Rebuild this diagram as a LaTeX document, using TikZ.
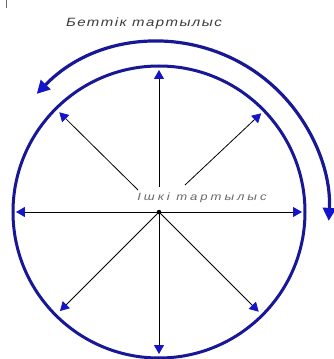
\documentclass[tikz,border=0pt]{standalone}
\usepackage{fontspec}
\setmainfont{Liberation Sans}
\usetikzlibrary{arrows.meta}
\definecolor{dblue}{RGB}{24,24,150}
\definecolor{hblue}{RGB}{20,20,200}
\definecolor{txtgray}{RGB}{60,60,60}
\definecolor{txtlight}{RGB}{105,105,105}
\newfontfamily\titlefont[LetterSpace=12,FakeStretch=1.25]{Liberation Sans}
\newfontfamily\innerfont[LetterSpace=28,FakeStretch=1.25]{Liberation Sans}
\tikzset{
  ring/.style={draw=dblue, line width=3pt},
  spoke/.style={draw=black, line width=0.8pt, -{Triangle[length=9pt,width=10pt,color=hblue]}},
  outerarc/.style={draw=dblue, line width=3.2pt, {Triangle[length=13pt,width=13pt,color=hblue]}-{Triangle[length=13pt,width=13pt,color=hblue]}},
  title/.style={font=\titlefont\itshape\fontsize{12}{14}\selectfont, text=txtgray, inner sep=0pt},
  inlabel/.style={font=\innerfont\itshape\fontsize{10.5}{12}\selectfont, text=txtlight, inner sep=0pt},
  hub/.style={circle, fill=black, inner sep=0pt, minimum size=4.5pt}
}
\begin{document}
\begin{tikzpicture}[x=1pt,y=1pt]
\useasboundingbox[fill=white] (-159,-147) rectangle (175,212);
% stray tick
\draw[line width=0.6pt, txtlight] (-153,212) -- (-153,204);
% ring
\node[hub] (c) at (0,0) {};
\draw[ring] (c.center) circle[radius=146];
% spoke ends
\coordinate (e0) at (0:143);
\coordinate (e45) at (44:142);
\coordinate (e90) at (90:142);
\coordinate (e135) at (135:141);
\coordinate (e180) at (180:143);
\coordinate (e225) at (225:140);
\coordinate (e270) at (270:142);
\coordinate (e315) at (315:141);
% spoke starts above the label
\coordinate (s45) at (26,27);
\coordinate (s90) at (0,25);
\coordinate (s135) at (-21,22);
\draw[spoke] (c.center) -- (e0);
\draw[spoke] (s45) -- (e45);
\draw[spoke] (s90) -- (e90);
\draw[spoke] (s135) -- (e135);
\draw[spoke] (c.center) -- (e180);
\draw[spoke] (c.center) -- (e225);
\draw[spoke] (c.center) -- (e270);
\draw[spoke] (c.center) -- (e315);
% outer arc
\coordinate (a1) at (136:170);
\coordinate (a2) at (-3:170);
\draw[outerarc] (a1) arc[start angle=136, end angle=-3, radius=170];
% labels
\node[title] (t) at (-15,189) {Беттік тартылыс};
\node[inlabel] (l) at (43,14) {Ішкі тартылыс};
\end{tikzpicture}
\end{document}
